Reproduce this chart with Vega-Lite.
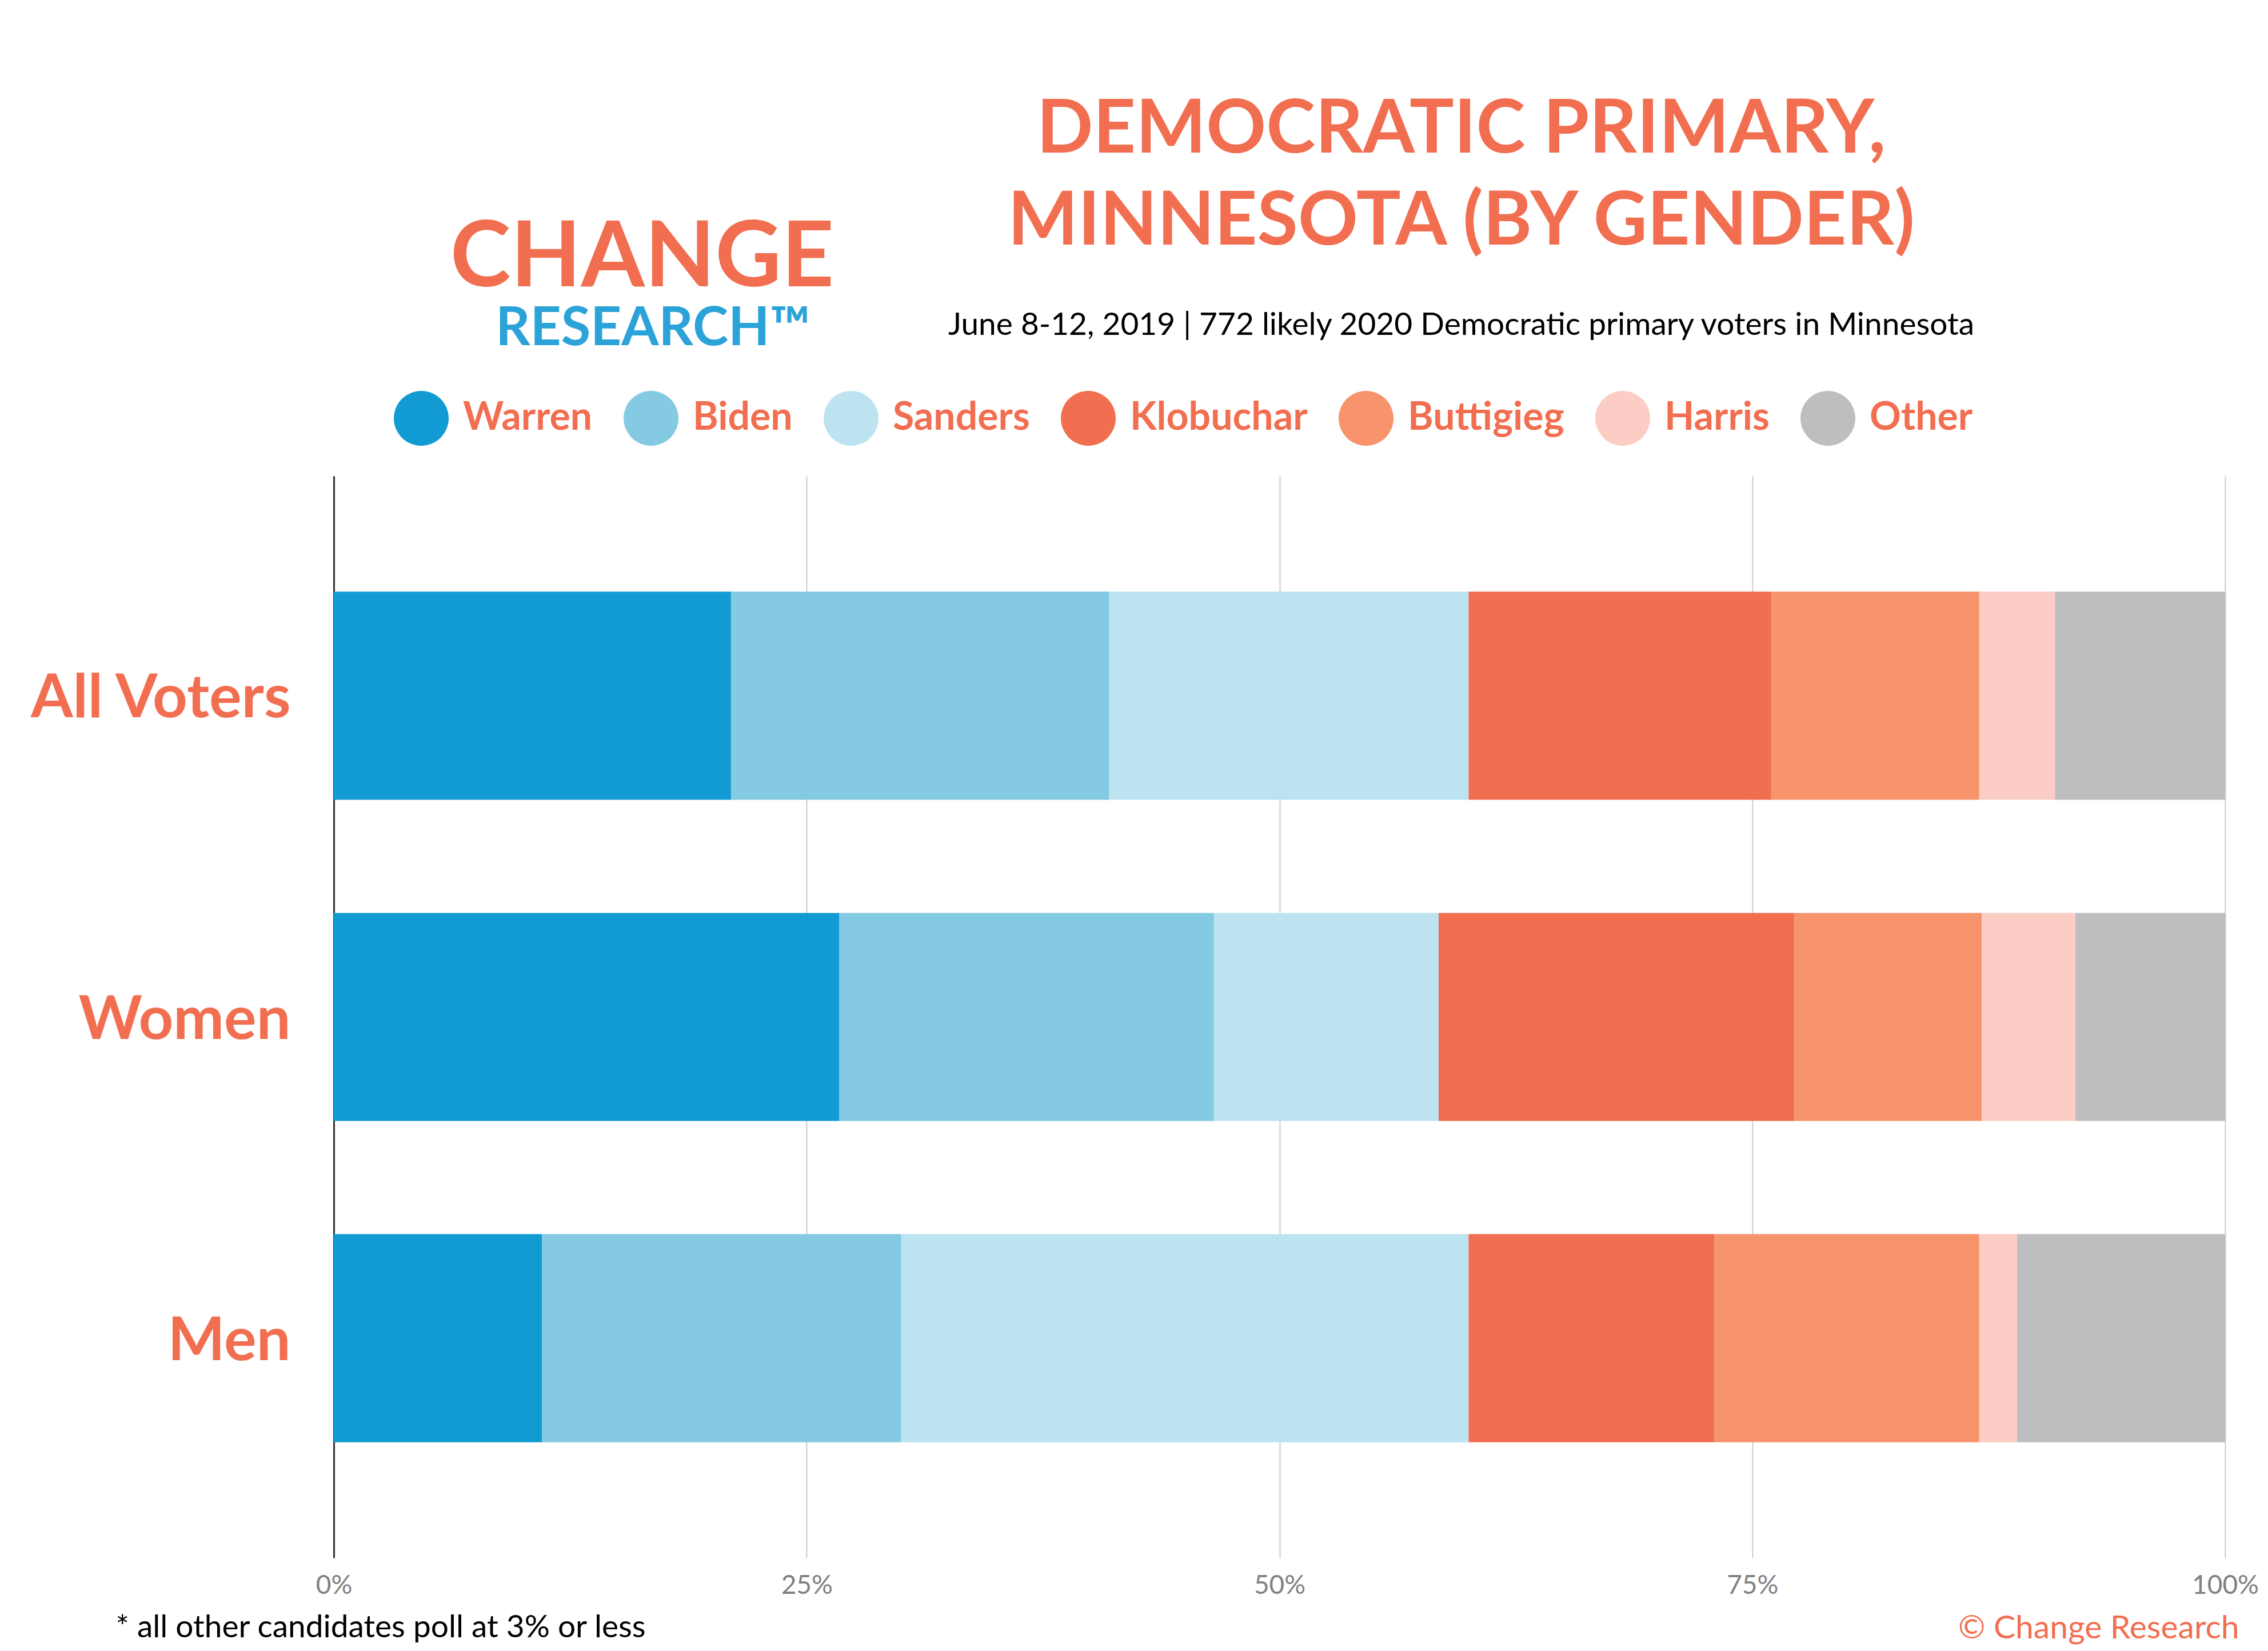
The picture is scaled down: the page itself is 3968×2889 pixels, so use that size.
{
  "$schema": "https://vega.github.io/schema/vega-lite/v6.json",
  "width": 3309,
  "height": 1893,
  "autosize": "none",
  "padding": {"left": 584, "top": 833, "right": 75, "bottom": 163},
  "background": "white",
  "config": {"view": {"stroke": null}, "font": "Lato"},
  "title": {
    "text": ["DEMOCRATIC PRIMARY,", "MINNESOTA (BY GENDER)"],
    "subtitle": "June 8-12, 2019  | 772 likely 2020 Democratic primary voters in Minnesota",
    "anchor": "middle",
    "dx": 318,
    "dy": 230,
    "font": "Lato",
    "fontSize": 130,
    "fontWeight": "bold",
    "color": "#f26e50",
    "lineHeight": 161,
    "subtitleFont": "Lato",
    "subtitleFontSize": 55,
    "subtitleColor": "#000000",
    "subtitlePadding": 88
  },
  "data": {
    "values": [
      {"group": "All Voters", "candidate": "Warren", "pct": 21},
      {"group": "All Voters", "candidate": "Biden", "pct": 20},
      {"group": "All Voters", "candidate": "Sanders", "pct": 19},
      {"group": "All Voters", "candidate": "Klobuchar", "pct": 16},
      {"group": "All Voters", "candidate": "Buttigieg", "pct": 11},
      {"group": "All Voters", "candidate": "Harris", "pct": 4},
      {"group": "All Voters", "candidate": "Other", "pct": 9},
      {"group": "Women", "candidate": "Warren", "pct": 27},
      {"group": "Women", "candidate": "Biden", "pct": 20},
      {"group": "Women", "candidate": "Sanders", "pct": 12},
      {"group": "Women", "candidate": "Klobuchar", "pct": 19},
      {"group": "Women", "candidate": "Buttigieg", "pct": 10},
      {"group": "Women", "candidate": "Harris", "pct": 5},
      {"group": "Women", "candidate": "Other", "pct": 8},
      {"group": "Men", "candidate": "Warren", "pct": 11},
      {"group": "Men", "candidate": "Biden", "pct": 19},
      {"group": "Men", "candidate": "Sanders", "pct": 30},
      {"group": "Men", "candidate": "Klobuchar", "pct": 13},
      {"group": "Men", "candidate": "Buttigieg", "pct": 14},
      {"group": "Men", "candidate": "Harris", "pct": 2},
      {"group": "Men", "candidate": "Other", "pct": 11}
    ]
  },
  "transform": [
    {"calculate": "indexof(['Warren', 'Biden', 'Sanders', 'Klobuchar', 'Buttigieg', 'Harris', 'Other'], datum.candidate)", "as": "rank"}
  ],
  "layer": [
    {
      "mark": {"type": "bar"},
      "encoding": {
        "y": {
          "field": "group",
          "type": "nominal",
          "sort": ["All Voters", "Women", "Men"],
          "scale": {"paddingInner": 0.352, "paddingOuter": 0.36},
          "axis": {
            "orient": "left",
            "domain": true,
            "domainColor": "#333333",
            "domainWidth": 3,
            "ticks": false,
            "labelPadding": 76,
            "labelOffset": 6,
            "labelLimit": 0,
            "labelFont": "Lato",
            "labelFontSize": 106,
            "labelFontWeight": "bold",
            "labelColor": "#f26e50",
            "title": "© Change Research",
            "titleAngle": 0,
            "titleAlign": "right",
            "titleBaseline": "middle",
            "titleX": 3333,
            "titleY": 2016,
            "titleFont": "Lato",
            "titleFontSize": 57,
            "titleFontWeight": "normal",
            "titleColor": "#f26e50",
            "titleLimit": 0
          }
        },
        "x": {
          "field": "pct",
          "type": "quantitative",
          "stack": "normalize",
          "scale": {"domain": [0, 1]},
          "axis": {
            "orient": "bottom",
            "values": [0, 0.25, 0.5, 0.75, 1],
            "format": ".0%",
            "domain": false,
            "ticks": false,
            "grid": true,
            "gridColor": "#cccccc",
            "gridWidth": 2,
            "labelFont": "Lato",
            "labelFontSize": 46,
            "labelColor": "#808080",
            "labelPadding": 26,
            "labelFlush": false,
            "title": "* all other candidates poll at 3% or less",
            "titleAlign": "left",
            "titleBaseline": "middle",
            "titleX": -382,
            "titleY": 121,
            "titleFont": "Lato",
            "titleFontSize": 55,
            "titleFontWeight": "normal",
            "titleColor": "#000000",
            "titleLimit": 0
          }
        },
        "order": {"field": "rank", "type": "quantitative"},
        "color": {
          "field": "candidate",
          "type": "nominal",
          "sort": ["Warren", "Biden", "Sanders", "Klobuchar", "Buttigieg", "Harris", "Other"],
          "scale": {
            "domain": ["Warren", "Biden", "Sanders", "Klobuchar", "Buttigieg", "Harris", "Other"],
            "range": ["#129bd2", "#83cae2", "#bde3f1", "#f26e50", "#f7946c", "#fbcdc4", "#bebec1"]
          },
          "legend": {
            "orient": "none",
            "legendX": 105,
            "legendY": -149,
            "direction": "horizontal",
            "title": null,
            "padding": 0,
            "symbolType": "circle",
            "symbolSize": 9216,
            "symbolStrokeWidth": 0,
            "symbolOpacity": 1,
            "labelFont": "Lato",
            "labelFontSize": 68,
            "labelFontWeight": "bold",
            "labelColor": "#f26e50",
            "labelLimit": 0,
            "labelOffset": 25,
            "columnPadding": 54
          }
        }
      }
    },
    {
      "mark": {"type": "bar", "opacity": 0},
      "encoding": {
        "y": {
          "field": "group",
          "type": "nominal",
          "sort": ["All Voters", "Women", "Men"],
          "scale": {"paddingInner": 0.352, "paddingOuter": 0.36},
          "axis": {
            "orient": "right",
            "domain": false,
            "ticks": false,
            "labels": false,
            "grid": false,
            "title": "CHANGE",
            "titleAngle": 0,
            "titleAlign": "center",
            "titleBaseline": "alphabetic",
            "titleX": -2770,
            "titleY": -333,
            "titleFont": "Lato",
            "titleFontSize": 160,
            "titleFontWeight": "bold",
            "titleColor": "#f26e50",
            "titleLimit": 0
          }
        },
        "x": {
          "field": "pct",
          "type": "quantitative",
          "stack": null,
          "scale": {"domain": [0, 100]},
          "axis": {
            "orient": "top",
            "domain": false,
            "ticks": false,
            "labels": false,
            "grid": false,
            "title": "RESEARCH™",
            "titleAlign": "center",
            "titleBaseline": "alphabetic",
            "titleX": 558,
            "titleY": -230,
            "titleFont": "Lato",
            "titleFontSize": 94,
            "titleFontWeight": "bold",
            "titleColor": "#2ba3d9",
            "titleLimit": 0
          }
        }
      }
    }
  ],
  "resolve": {
    "scale": {"x": "independent", "y": "independent"},
    "axis": {"x": "independent", "y": "independent"}
  }
}
